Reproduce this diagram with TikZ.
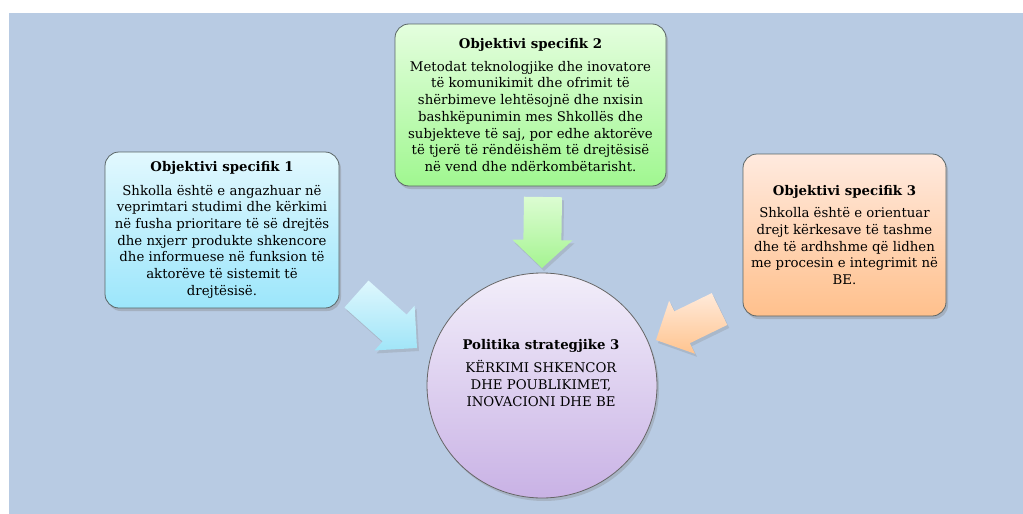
\documentclass[tikz,border=0pt]{standalone}
\usepackage{fontspec}
\setmainfont{DejaVu Serif}
\usetikzlibrary{calc,shadows,shapes.geometric}
\definecolor{bgc}{HTML}{B8CBE3}
\definecolor{edgec}{HTML}{5A6566}
\definecolor{txtc}{HTML}{000000}
\newcommand\blockarr[6]{%
  \coordinate (q) at ($(#2)!#5!(#1)$);
  \path[#6] ($(#1)!#3!90:(#2)$) -- ($(q)!#3!90:(#2)$) -- ($(q)!#4!90:(#2)$) -- (#2)
    -- ($(q)!#4!-90:(#2)$) -- ($(q)!#3!-90:(#2)$) -- ($(#1)!#3!-90:(#2)$) -- cycle;}
\begin{document}
\begin{tikzpicture}[x=1pt,y=-1pt,
  objbox/.style={draw=edgec, line width=0.8pt, rounded corners=14pt, align=center,
    inner sep=0pt, text=txtc, font=\fontsize{13.3}{16.7}\selectfont,
    drop shadow={opacity=0.35, shadow xshift=2pt, shadow yshift=-3pt}},
  blkarrow/.style={drop shadow={opacity=0.25, shadow xshift=2pt, shadow yshift=-3pt}},
  ttl/.style={font=\bfseries}]
\useasboundingbox (0,0) rectangle (1023,514);
\fill[white] (0,0) rectangle (1023,514);
\fill[bgc] (9,13) rectangle (1023,514);

% arrows
\coordinate (bt) at (356.5,294); \coordinate (bh) at (417,348);
\coordinate (gt) at (543,197);   \coordinate (gh) at (542,268);
\coordinate (ot) at (719.5,309); \coordinate (oh) at (656,340);
\blockarr{bt}{bh}{18pt}{30pt}{30pt}{blkarrow, top color={rgb,255:red,222;green,247;blue,253}, bottom color={rgb,255:red,160;green,229;blue,248}}
\blockarr{gt}{gh}{19pt}{30pt}{28pt}{blkarrow, top color={rgb,255:red,220;green,252;blue,210}, bottom color={rgb,255:red,165;green,244;blue,145}}
\blockarr{ot}{oh}{17.7pt}{29.5pt}{29pt}{blkarrow, top color={rgb,255:red,255;green,234;blue,218}, bottom color={rgb,255:red,255;green,196;blue,143}}

% circle
\node[ellipse, draw=gray!80!black, line width=0.8pt, minimum width=230pt, minimum height=225pt,
  inner sep=0pt, top color={rgb,255:red,242;green,238;blue,250}, bottom color={rgb,255:red,201;green,178;blue,229},
  drop shadow={opacity=0.3, shadow xshift=2pt, shadow yshift=-3pt}] (pol) at (542,385.5) {};
\node[align=center, text=txtc, font=\fontsize{13.3}{16.7}\selectfont] (polt) at (541,373)
  {{\bfseries Politika strategjike 3}\\[6pt]KËRKIMI SHKENCOR\\DHE POUBLIKIMET,\\INOVACIONI DHE BE};

% boxes
\node[objbox, minimum width=234pt, minimum height=156pt,
  top color={rgb,255:red,226;green,248;blue,254}, bottom color={rgb,255:red,156;green,230;blue,251}] (o1) at (222,230)
  {{\bfseries Objektivi specifik 1}\\[6.5pt]Shkolla është e angazhuar në\\veprimtari studimi dhe kërkimi\\në fusha prioritare të së drejtës\\dhe nxjerr produkte shkencore\\dhe informuese  në funksion të\\aktorëve të sistemit të\\drejtësisë.};
\node[objbox, minimum width=271pt, minimum height=162pt,
  top color={rgb,255:red,228;green,254;blue,222}, bottom color={rgb,255:red,160;green,247;blue,144}] (o2) at (530.5,105)
  {{\bfseries Objektivi specifik 2}\\[6pt]Metodat teknologjike dhe inovatore\\të komunikimit dhe ofrimit të\\shërbimeve lehtësojnë dhe nxisin\\bashkëpunimin mes Shkollës dhe\\subjekteve të saj, por edhe aktorëve\\të tjerë të rëndëishëm të drejtësisë\\në vend dhe ndërkombëtarisht.};
\node[objbox, minimum width=203pt, minimum height=162pt,
  top color={rgb,255:red,255;green,234;blue,223}, bottom color={rgb,255:red,255;green,192;blue,140}] (o3) at (844.5,235)
  {{\bfseries Objektivi specifik 3}\\[5.5pt]Shkolla është e orientuar\\drejt kërkesave të tashme\\dhe të ardhshme që lidhen\\me procesin e integrimit në\\BE.};
\end{tikzpicture}
\end{document}
